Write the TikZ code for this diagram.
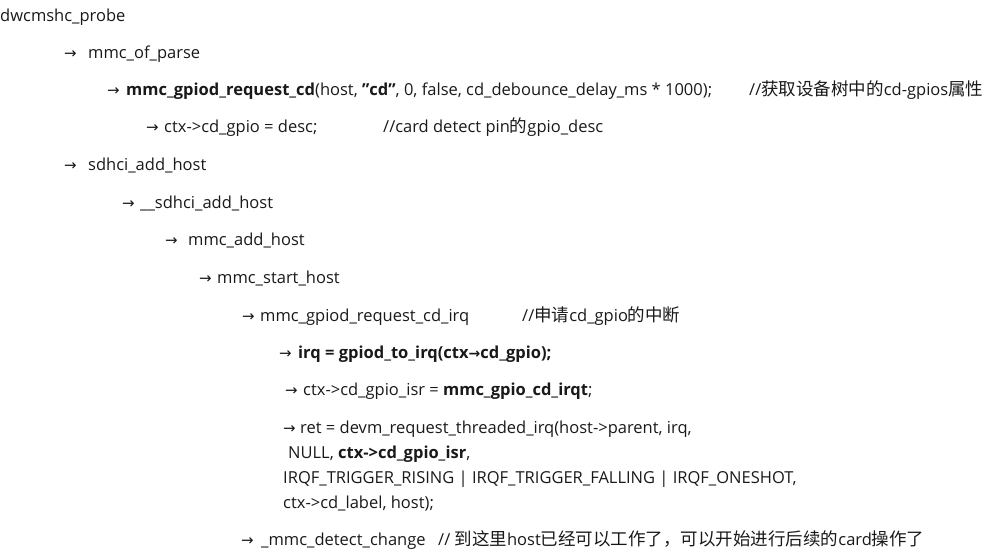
\documentclass[tikz,border=0pt]{standalone}
\usepackage{fontspec}
\setmainfont{Open Sans}
\newfontfamily\cjkfam{Noto Sans CJK SC}
\newcommand{\cjk}{\cjkfam\fontsize{17.5}{19}\selectfont}
\newfontfamily\arrfont{DejaVu Sans}
\newcommand{\rarrow}{{\arrfont\fontsize{15}{17}\selectfont →}}
\begin{document}
\begin{tikzpicture}[x=1pt,y=-1pt,
  txt/.style={inner sep=0pt, anchor=base west, font=\fontsize{16.5}{19}\selectfont, text=black!90}]
\useasboundingbox (0,0) rectangle (996,552);
% line 1
\node[txt] (t1) at (0,21) {dwcmshc\_probe};
% line 2
\node[txt] (a2) at (64,58) {\rarrow};
\node[txt] (t2) at (88,58) {mmc\_of\_parse};
% line 3
\node[txt] (a3) at (107,95) {\rarrow};
\node[txt] (t3) at (126,95) {\textbf{mmc\_gpiod\_request\_cd}(host, \textbf{\char"22 cd\char"22}, 0, false, cd\_debounce\_delay\_ms * 1000);};
\node[txt] (c3) at (749,95) {//{\cjk 获取设备树中的}cd-gpios{\cjk 属性}};
% line 4
\node[txt] (a4) at (146,132) {\rarrow};
\node[txt] (t4) at (164,132) {ctx->cd\_gpio = desc;};
\node[txt] (c4) at (383,132) {//card detect pin{\cjk 的}gpio\_desc};
% line 5
\node[txt] (a5) at (64,170) {\rarrow};
\node[txt] (t5) at (88,170) {sdhci\_add\_host};
% line 6
\node[txt] (a6) at (122,208) {\rarrow};
\node[txt] (t6) at (140,208) {\_\_sdhci\_add\_host};
% line 7
\node[txt] (a7) at (165,245) {\rarrow};
\node[txt] (t7) at (188,245) {mmc\_add\_host};
% line 8
\node[txt] (a8) at (199,283) {\rarrow};
\node[txt] (t8) at (217,283) {mmc\_start\_host};
% line 9
\node[txt] (a9) at (242,321) {\rarrow};
\node[txt] (t9) at (260,321) {mmc\_gpiod\_request\_cd\_irq};
\node[txt] (c9) at (522,321) {//{\cjk 申请}cd\_gpio{\cjk 的中断}};
% line 10
\node[txt] (a10) at (279,358) {\rarrow};
\node[txt] (t10) at (298,358) {\textbf{irq = gpiod\_to\_irq(ctx{\arrfont\fontsize{14}{15}\selectfont →}cd\_gpio);}};
% line 11
\node[txt] (a11) at (285,395) {\rarrow};
\node[txt] (t11) at (303,395) {ctx->cd\_gpio\_isr = \textbf{mmc\_gpio\_cd\_irqt};};
% line 12
\node[txt] (a12) at (283,433) {\rarrow};
\node[txt] (t12) at (300,433) {ret = devm\_request\_threaded\_irq(host->parent, irq,};
% line 13
\node[txt] (t13) at (288,458) {NULL, \textbf{ctx->cd\_gpio\_isr},};
% line 14
\node[txt] (t14) at (283,483) {IRQF\_TRIGGER\_RISING | IRQF\_TRIGGER\_FALLING | IRQF\_ONESHOT,};
% line 15
\node[txt] (t15) at (283,508) {ctx->cd\_label, host);};
% line 16
\node[txt] (a16) at (241,545) {\rarrow};
\node[txt] (t16) at (261,545) {\_mmc\_detect\_change};
\node[txt] (c16) at (438,545) {// {\cjk 到这里}host{\cjk 已经可以工作了，可以开始进行后续的}card{\cjk 操作了}};
\end{tikzpicture}
\end{document}
